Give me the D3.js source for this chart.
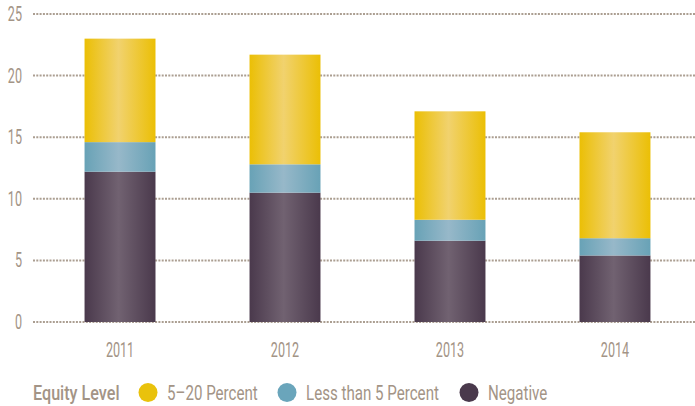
<!DOCTYPE html>
<html>
<head>
<meta charset="utf-8">
<script src="https://cdn.jsdelivr.net/npm/d3@7"></script>
<style>
  body { margin: 0; background: #fff; }
  svg text { font-family: Roboto, "Noto Sans", sans-serif; fill: #a39486; }
</style>
</head>
<body>
<div id="chart"></div>
<script>
const years = ["2011", "2012", "2013", "2014"];
const negative = [12.2, 10.5, 6.6, 5.4];
const lessThan5 = [2.4, 2.3, 1.7, 1.4];
const fiveTo20 = [8.4, 8.9, 8.8, 8.6];
const yTicks = [0, 5, 10, 15, 20, 25];
const seriesNames = ["5–20 Percent", "Less than 5 Percent", "Negative"];

const width = 695, height = 406;
const padding = { t: 14, b: 84, s: 33, e: 0 };
// the original uses a very condensed face, so squeeze the text horizontally
const numSqueeze = 0.6, textSqueeze = 0.72, titleSqueeze = 0.77;

const svg = d3.select("#chart").append("svg").attr("width", width).attr("height", height);

// gradients: dark edges, light middle
const grads = [
  { id: "g-neg", edge: "#4a394c", mid: "#716271", solid: "#4a394c" },
  { id: "g-less", edge: "#68a2b6", mid: "#97b8c9", solid: "#6aa5bb" },
  { id: "g-five", edge: "#ebbf05", mid: "#f1d26e", solid: "#e9c20c" },
];
const defs = svg.append("defs");
grads.forEach((g) => {
  const lg = defs.append("linearGradient").attr("id", g.id).attr("x1", "0%").attr("x2", "100%");
  lg.append("stop").attr("offset", "0%").attr("stop-color", g.edge);
  lg.append("stop").attr("offset", "48%").attr("stop-color", g.mid);
  lg.append("stop").attr("offset", "100%").attr("stop-color", g.edge);
});

const rows = years.map((y, i) => ({ year: y, neg: negative[i], less: lessThan5[i], five: fiveTo20[i] }));
const stack = d3.stack().keys(["neg", "less", "five"])(rows);

const y = d3.scaleLinear().domain([0, 25]).range([height - padding.b, padding.t]);
const x = d3.scaleBand().domain(years).range([40, 695]).paddingInner(0.57).paddingOuter(0.27);

// dotted grid
svg.append("g")
  .selectAll("line")
  .data(yTicks)
  .join("line")
  .attr("x1", padding.s)
  .attr("x2", width)
  .attr("y1", (d) => y(d))
  .attr("y2", (d) => y(d))
  .attr("stroke", "#ab9e91")
  .attr("stroke-width", 2)
  .attr("stroke-dasharray", "2 1.3");

svg.append("g")
  .selectAll("text")
  .data(yTicks)
  .join("text")
  .attr("transform", (d) => `translate(22, ${y(d) + 7}) scale(${numSqueeze}, 1)`)
  .attr("text-anchor", "end")
  .attr("font-size", 21)
  .text((d) => d);

const layerFill = { neg: "url(#g-neg)", less: "url(#g-less)", five: "url(#g-five)" };
svg.append("g")
  .selectAll("g")
  .data(stack)
  .join("g")
  .attr("fill", (s) => layerFill[s.key])
  .selectAll("rect")
  .data((s) => s)
  .join("rect")
  .attr("x", (d) => x(d.data.year))
  .attr("width", x.bandwidth())
  .attr("y", (d) => y(d[1]))
  .attr("height", (d) => y(d[0]) - y(d[1]));

svg.append("g")
  .selectAll("text")
  .data(years)
  .join("text")
  .attr("transform", (d) => `translate(${x(d) + x.bandwidth() / 2}, 357) scale(${numSqueeze}, 1)`)
  .attr("text-anchor", "middle")
  .attr("font-size", 21)
  .text((d) => d);

// legend
const legend = svg.append("g").attr("transform", "translate(33, 400)");
legend.append("text")
  .attr("transform", `scale(${titleSqueeze}, 1)`)
  .attr("font-size", 21)
  .attr("font-weight", 500)
  .text("Equity Level");
const items = [
  { name: seriesNames[0], color: grads[2].solid, x: 115 },
  { name: seriesNames[1], color: grads[1].solid, x: 254 },
  { name: seriesNames[2], color: grads[0].solid, x: 436 },
];
const li = legend.selectAll("g.item").data(items).join("g").attr("class", "item").attr("transform", (d) => `translate(${d.x}, 0)`);
li.append("circle").attr("cx", 0).attr("cy", -7.5).attr("r", 9.5).attr("fill", (d) => d.color);
li.append("text").attr("transform", `translate(19, 0) scale(${textSqueeze}, 1)`).attr("font-size", 21).text((d) => d.name);
</script>
</body>
</html>
